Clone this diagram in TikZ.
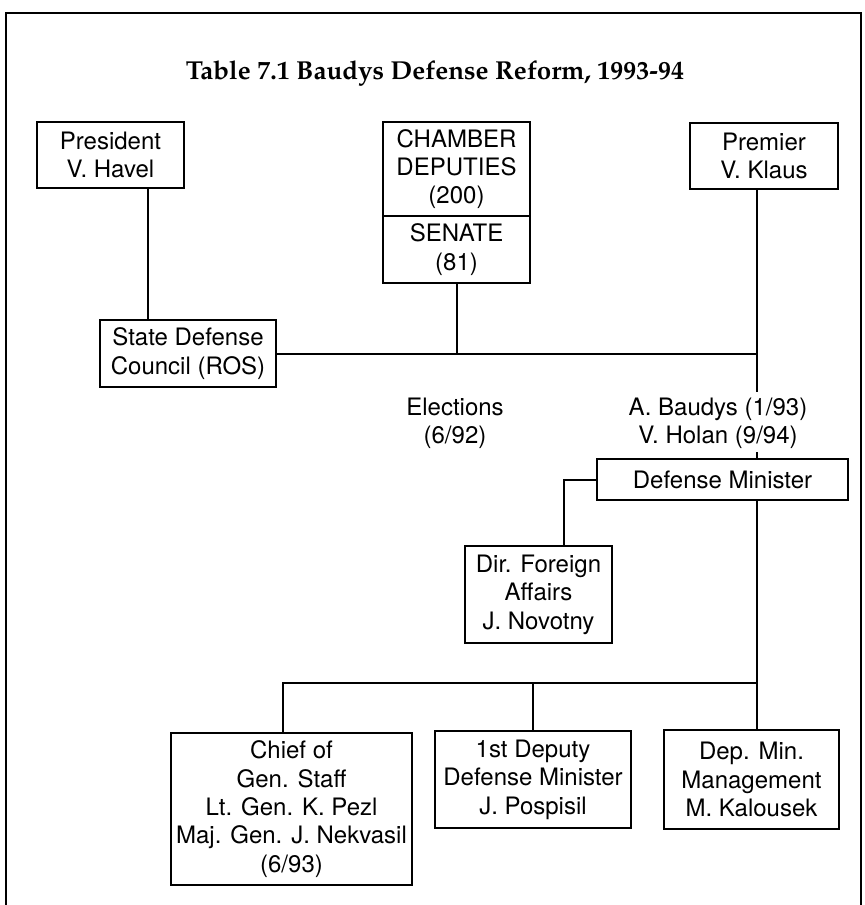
\documentclass[tikz,border=0pt]{standalone}
\usepackage[T1]{fontenc}
\usepackage{fontspec}
\usepackage{graphicx}
\setmainfont{TeX Gyre Heros}
% bold Palatino for the heading
\newcommand{\headfont}{\fontencoding{T1}\fontfamily{ppl}\fontseries{b}\fontshape{n}\fontsize{13}{15}\selectfont}

\tikzset{
  box/.style={draw, line width=1pt, inner sep=0pt, align=center,
              font=\fontsize{12}{14.2}\selectfont},
  lbl/.style={inner sep=0pt, align=center, font=\fontsize{12}{14.2}\selectfont},
  conn/.style={line width=1pt},
  frame/.style={line width=1.3pt}
}

\begin{document}
\begin{tikzpicture}[x=0.5pt, y=-0.5pt]
  \useasboundingbox (0,0) rectangle (865,905);

  % open frame around the chart
  \draw[frame] (6,910) -- (6,13) -- (861,13) -- (861,910);

  % heading
  \node[anchor=base, inner sep=0pt] (title) at (435,79)
    {\resizebox{249pt}{!}{\headfont Table 7.1 Baudys Defense Reform, 1993-94}};

  % top row
  \node[box, minimum width=73.5pt, minimum height=33pt] (pres) at (110.5,155)
    {President\\V. Havel};
  \node[box, minimum width=73.5pt, minimum height=47pt] (cham) at (456.5,169)
    {CHAMBER\\DEPUTIES\\(200)};
  \node[box, minimum width=73.5pt, minimum height=33.5pt] (sen) at (456.5,249.5)
    {SENATE\\(81)};
  \node[box, minimum width=74pt, minimum height=33pt] (prem) at (764,156)
    {Premier\\V. Klaus};

  % council
  \node[box, minimum width=88pt, minimum height=33.5pt] (sdc) at (188,353.5)
    {State Defense\\Council (ROS)};

  % labels between the levels
  \node[lbl] (elec) at (455,423) {Elections\\(6/92)};
  \node[lbl] (mins) at (718,423) {A. Baudys (1/93)\\V. Holan (9/94)};

  % ministry
  \node[box, minimum width=125.5pt, minimum height=20.5pt] (dm) at (722.5,479.5)
    {Defense Minister};
  \node[box, minimum width=73.5pt, minimum height=48.5pt] (dir) at (538.5,594.5)
    {Dir. Foreign\\Affairs\\J. Novotny};

  % bottom row
  \node[box, minimum width=120.5pt, minimum height=76pt] (chief) at (291.5,809)
    {Chief of\\Gen. Staff\\Lt. Gen. K. Pezl\\Maj. Gen. J. Nekvasil\\(6/93)};
  \node[box, minimum width=98pt, minimum height=48.5pt] (dep) at (533,779.5)
    {1st Deputy\\Defense Minister\\J. Pospisil};
  \node[box, minimum width=87.5pt, minimum height=49.5pt] (depmin) at (751.5,779.5)
    {Dep. Min.\\Management\\M. Kalousek};

  % guide coordinates for the vertical runs
  \coordinate (xp) at (148,0);
  \coordinate (xs) at (757,0);
  \coordinate (xd) at (564,0);
  \coordinate (xc) at (283,0);
  \coordinate (bus) at (0,683);
  \coordinate (gaptop) at (757,392);
  \coordinate (gapbot) at (757,452);

  % connectors
  \draw[conn] (xp |- pres.south) -- (xp |- sdc.north);
  \draw[conn] (sdc.east) -- (sdc.east -| xs);
  \draw[conn] (sen.south) -- (sen.south |- sdc.east);
  \draw[conn] (xs |- prem.south) -- (gaptop);
  \draw[conn] (gapbot) -- (xs |- dm.north);
  \draw[conn] (dm.west) -| (xd |- dir.north);
  \draw[conn] (xs |- dm.south) -- (xs |- depmin.north);
  \draw[conn] (xc |- chief.north) |- (bus -| xs);
  \draw[conn] (dep.north) -- (dep.north |- bus);
\end{tikzpicture}
\end{document}
